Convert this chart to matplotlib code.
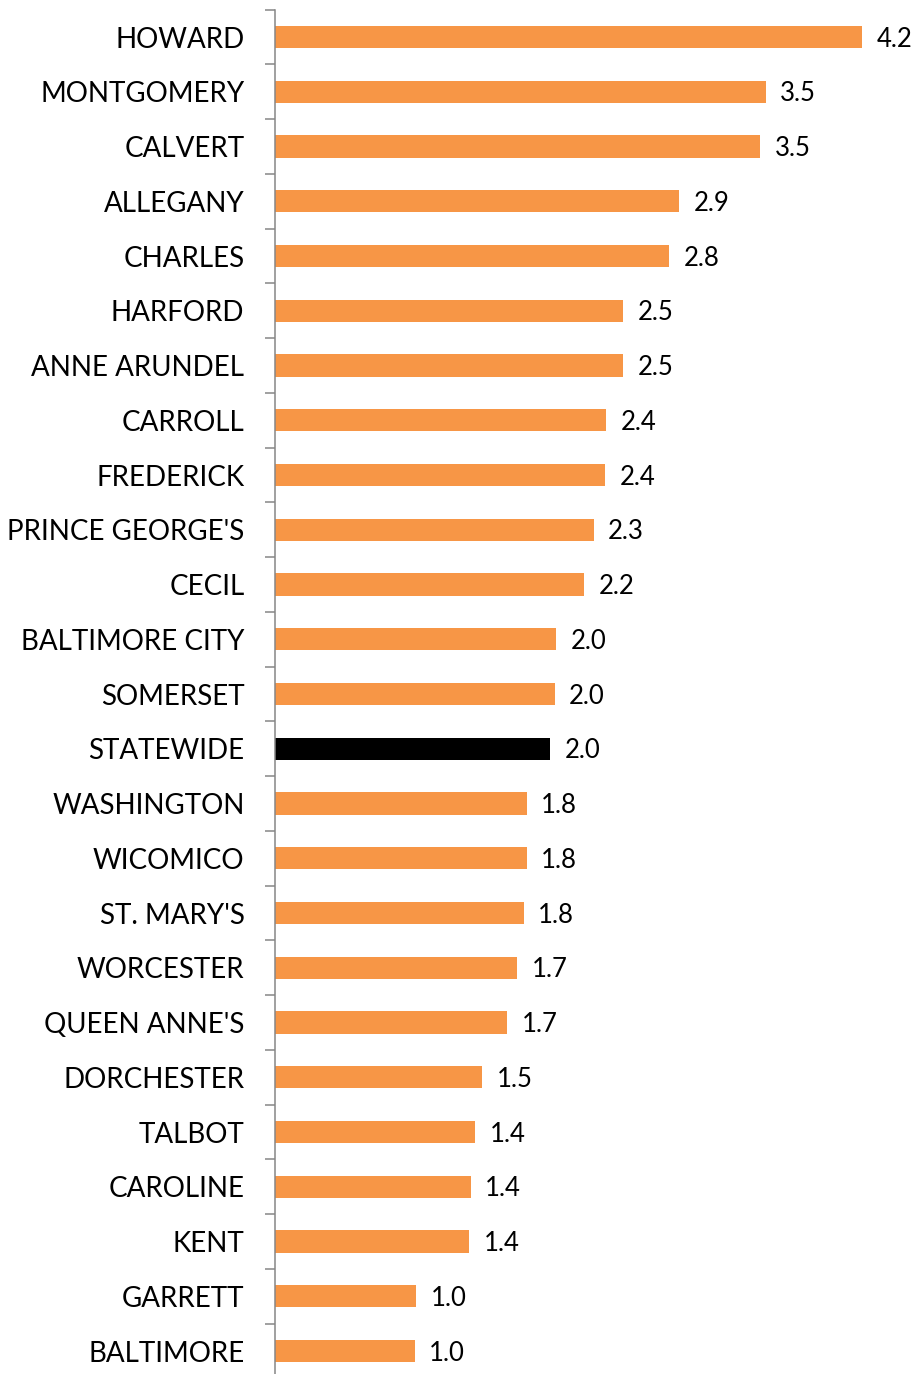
import numpy as np
import matplotlib.pyplot as plt

counties = ["HOWARD", "MONTGOMERY", "CALVERT", "ALLEGANY", "CHARLES", "HARFORD",
            "ANNE ARUNDEL", "CARROLL", "FREDERICK", "PRINCE GEORGE'S", "CECIL",
            "BALTIMORE CITY", "SOMERSET", "STATEWIDE", "WASHINGTON", "WICOMICO",
            "ST. MARY'S", "WORCESTER", "QUEEN ANNE'S", "DORCHESTER", "TALBOT",
            "CAROLINE", "KENT", "GARRETT", "BALTIMORE"]
rates = [4.20, 3.51, 3.47, 2.89, 2.82, 2.49, 2.49, 2.37, 2.36, 2.28, 2.21,
         2.01, 2.00, 1.97, 1.80, 1.80, 1.78, 1.73, 1.66, 1.48, 1.43,
         1.40, 1.39, 1.01, 1.00]

orange = "#F79646"
colors = ["black" if c == "STATEWIDE" else orange for c in counties]

plt.rcParams["font.family"] = ["Lato", "DejaVu Sans"]

fig = plt.figure(figsize=(9.15, 13.74), dpi=100)
ax = fig.add_axes([275 / 915, -4.4 / 1374, 640 / 915, 1368.75 / 1374])

y = np.arange(len(counties))
ax.barh(y, rates, height=0.41, color=colors)
ax.set_ylim(len(counties) - 0.5, -0.5)
ax.set_xlim(0, 640 / 139.76)

# value labels just past the bar ends
for yi, v in zip(y, rates):
    ax.annotate(f"{v:.1f}", (v, yi), xytext=(10.5, -1.5), textcoords="offset points",
                va="center", ha="left", fontsize=18.5, color="black")

ax.set_yticks(y)
ax.set_yticklabels(counties, fontsize=20)
ax.set_yticks(np.arange(-0.5, len(counties)), minor=True)
ax.tick_params(axis="y", which="major", length=0, pad=22)
ax.tick_params(axis="y", which="minor", length=7, width=1.1, color="#868686")
ax.set_xticks([])

for s in ["top", "right", "bottom"]:
    ax.spines[s].set_visible(False)
ax.spines["left"].set_color("#868686")
ax.spines["left"].set_linewidth(1.1)

fig.savefig("out.png", dpi=100)
